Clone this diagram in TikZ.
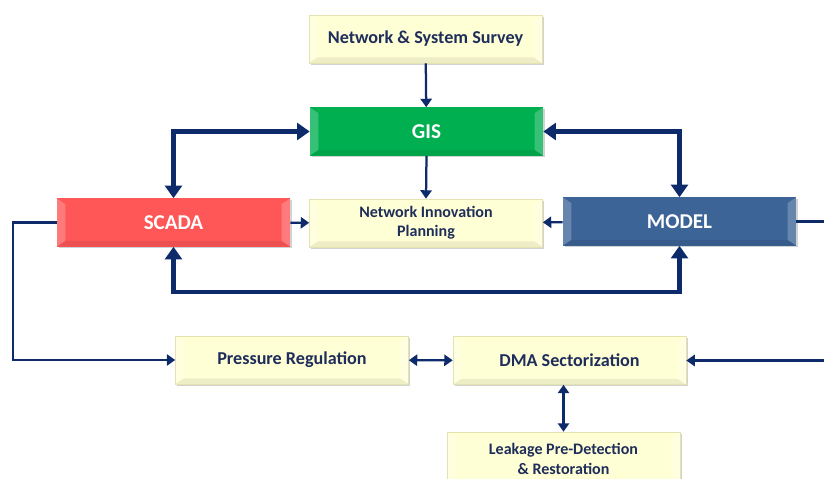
\documentclass[tikz,border=0pt]{standalone}
\usepackage{fontspec}
\setmainfont{Carlito}
\usetikzlibrary{arrows.meta,shadows}
\definecolor{navy}{HTML}{0D2A6B}
\definecolor{txtnavy}{HTML}{1F2D5A}
\definecolor{boxyellow}{HTML}{FFFFD6}
\definecolor{boxyellowedge}{HTML}{E4E2B0}
\definecolor{gisgreen}{HTML}{00B050}
\definecolor{scadared}{HTML}{FF5757}
\definecolor{modelblue}{HTML}{3C6496}
\tikzset{
  bevel/.style={path picture={
    \fill[white,opacity=0.22] (path picture bounding box.north west) -- ([xshift=6pt,yshift=-4pt]path picture bounding box.north west) -- ([xshift=6pt,yshift=4pt]path picture bounding box.south west) -- (path picture bounding box.south west) -- cycle;
    \fill[white,opacity=0.22] (path picture bounding box.north east) -- ([xshift=-6pt,yshift=-4pt]path picture bounding box.north east) -- ([xshift=-6pt,yshift=4pt]path picture bounding box.south east) -- (path picture bounding box.south east) -- cycle;
    \fill[black,opacity=0.07] (path picture bounding box.south west) -- ([xshift=6pt,yshift=4pt]path picture bounding box.south west) -- ([xshift=-6pt,yshift=4pt]path picture bounding box.south east) -- (path picture bounding box.south east) -- cycle;
  }},
  basebox/.style={rectangle, minimum width=5.825cm, minimum height=1.2cm, inner sep=2pt, align=center, bevel,
    drop shadow={shadow xshift=1.2pt, shadow yshift=-1.2pt, opacity=0.35, fill=gray}},
  ybox/.style={basebox, fill=boxyellow, draw=boxyellowedge, line width=0.4pt, text=txtnavy, font=\bfseries\fontsize{12.9}{14}\selectfont},
  ysmall/.style={ybox, font=\bfseries\fontsize{11.4}{13.8}\selectfont},
  cbox/.style={basebox, draw=none, text=white, font=\bfseries\fontsize{15}{17}\selectfont},
  thin/.style={draw=navy, line width=1.6pt, -{Triangle[width=8pt,length=6pt]}},
  thinboth/.style={draw=navy, line width=1.6pt, {Triangle[width=8pt,length=6pt]}-{Triangle[width=8pt,length=6pt]}},
  thickboth/.style={draw=navy, line width=3pt, {Triangle[width=12pt,length=9pt]}-{Triangle[width=12pt,length=9pt]}},
}
\begin{document}
\begin{tikzpicture}[x=0.025cm,y=-0.025cm]
\useasboundingbox (0,0) rectangle (824,479);
\clip (0,0) rectangle (824,479);
\fill[white] (0,0) rectangle (824,479);

\node[ybox] (survey) at (425.5,39) {Network \& System Survey};
\node[cbox, fill=gisgreen] (gis) at (426.5,131.5) {GIS};
\node[cbox, fill=scadared] (scada) at (173.5,222.5) {SCADA};
\node[ysmall] (nip) at (426,223) {Network Innovation\\Planning};
\node[cbox, fill=modelblue] (model) at (679.5,221.5) {MODEL};
\node[ybox] (pr) at (292,360) {Pressure Regulation};
\node[ybox] (dma) at (569.5,360.5) {DMA Sectorization};
\node[ysmall, minimum height=1.35cm] (leak) at (563.5,459) {Leakage Pre-Detection\\\& Restoration};

\draw[thin] (survey) -- (gis);
\draw[thin] (gis.south) -- (nip.north);
\draw[thin] (scada) -- (nip);
\draw[thin] (model) -- (nip);

\draw[thickboth] (gis.west) -| (scada.north);
\draw[thickboth] (gis.east) -| (model.north);
\draw[thickboth] (scada.south) -- ++(0,45) -| (model.south);

\draw[thin] (scada.west) -- ++(-44,0) |- (pr.west);
\draw[thin] (model.east) -- ++(40,0) |- (dma.east);

\draw[thinboth] (pr) -- (dma);
\draw[thinboth] (dma.south -| leak.north) -- (leak.north);
\end{tikzpicture}
\end{document}
